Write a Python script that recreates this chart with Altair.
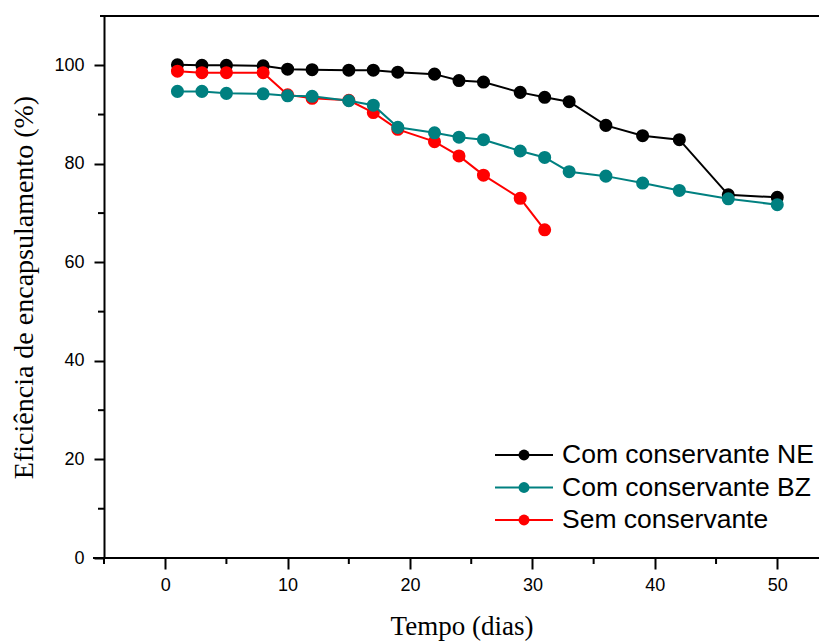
import altair as alt
import pandas as pd

# ---- data ----
series_names = ["Com conservante NE", "Com conservante BZ", "Sem conservante"]
series_colors = ["#000000", "#008080", "#FF0000"]

days_ne = [1, 3, 5, 8, 10, 12, 15, 17, 19, 22, 24, 26, 29, 31, 33, 36, 39, 42, 46, 50]
eff_ne = [100.1, 100.0, 100.0, 99.9, 99.2, 99.1, 99.0, 99.0, 98.6, 98.2, 96.9, 96.6,
          94.5, 93.5, 92.6, 87.8, 85.7, 84.9, 73.7, 73.2]

days_bz = [1, 3, 5, 8, 10, 12, 15, 17, 19, 22, 24, 26, 29, 31, 33, 36, 39, 42, 46, 50]
eff_bz = [94.7, 94.7, 94.3, 94.2, 93.8, 93.7, 92.8, 91.9, 87.4, 86.3, 85.4, 84.9,
          82.6, 81.3, 78.4, 77.5, 76.1, 74.6, 72.9, 71.7]

days_sem = [1, 3, 5, 8, 10, 12, 15, 17, 19, 22, 24, 26, 29, 31]
eff_sem = [98.8, 98.5, 98.5, 98.5, 94.0, 93.3, 92.9, 90.4, 87.0, 84.5, 81.6, 77.7, 73.0, 66.6]

x_major = [0, 10, 20, 30, 40, 50]
x_minor = [-5, 5, 15, 25, 35, 45]
y_major = [0, 20, 40, 60, 80, 100]
y_minor = [10, 30, 50, 70, 90]

x_title = "Tempo (dias)"
y_title = "Eficiência de encapsulamento (%)"

# ---- tables ----
df = pd.concat([
    pd.DataFrame({"dia": days_ne, "ef": eff_ne, "serie": series_names[0]}),
    pd.DataFrame({"dia": days_bz, "ef": eff_bz, "serie": series_names[1]}),
    pd.DataFrame({"dia": days_sem, "ef": eff_sem, "serie": series_names[2]}),
], ignore_index=True)

W, H = 715, 542
XDOM = [-5, 53.41]
YDOM = [0, 110]
SANS = "Liberation Sans"
SERIF = "Liberation Serif"

color = alt.Color("serie:N", scale=alt.Scale(domain=series_names, range=series_colors), legend=None)
xs = alt.Scale(domain=XDOM, nice=False, zero=False)
ys = alt.Scale(domain=YDOM, nice=False)

x_axis = alt.Axis(values=x_major, title=x_title, domain=False, tickSize=11, tickWidth=2,
                  tickColor="black", labelFont=SANS, labelFontSize=18, labelColor="black",
                  labelPadding=7, titleFont=SERIF, titleFontSize=27, titleFontWeight="normal",
                  titleColor="black", titlePadding=19, grid=False, labelFlush=False)
y_axis = alt.Axis(values=y_major, title=y_title, domainWidth=2, domainColor="black",
                  tickSize=10, tickWidth=2, tickColor="black", labelFont=SANS,
                  labelFontSize=18, labelColor="black", labelPadding=10,
                  titleFont=SERIF, titleFontSize=28, titleFontWeight="normal",
                  titleColor="black", titlePadding=15, grid=False)


def X(field):
    return alt.X(field, scale=xs, axis=x_axis)


def Y(field):
    return alt.Y(field, scale=ys, axis=y_axis)


base = alt.Chart(df)

layers = []
for s in [series_names[0], series_names[2], series_names[1]]:
    b = base.transform_filter(alt.datum.serie == s)
    layers.append(b.mark_line(strokeWidth=2).encode(x=X("dia:Q"), y=Y("ef:Q"), color=color))
    layers.append(b.mark_point(filled=True, size=170, opacity=1, shape="circle").encode(
        x=X("dia:Q"), y=Y("ef:Q"), color=color))

# minor ticks and frame lines
xminor_df = pd.DataFrame({"dia": x_minor})
yminor_df = pd.DataFrame({"ef": y_minor})
xmin_rule = alt.Chart(xminor_df).mark_rule(color="black", strokeWidth=2).encode(
    x=X("dia:Q"), y=alt.value(H), y2=alt.value(H + 6))
ymin_rule = alt.Chart(yminor_df).mark_rule(color="black", strokeWidth=2).encode(
    y=Y("ef:Q"), x=alt.value(0), x2=alt.value(-6))
bottom_line = alt.Chart(xminor_df).mark_rule(color="black", strokeWidth=2).encode(
    x=alt.value(-11), x2=alt.value(W), y=alt.value(H))
top_line = alt.Chart(xminor_df).mark_rule(color="black", strokeWidth=2).encode(
    x=alt.value(-4), x2=alt.value(W), y=alt.value(0))

main = alt.layer(*layers, xmin_rule, ymin_rule, bottom_line, top_line)

# manual legend
leg_df = pd.DataFrame({"serie": series_names, "row": [0, 1, 2]})
leg_y = alt.Y("row:Q", scale=alt.Scale(domain=[0, 2], range=[439, 504]), axis=None)
leg_base = alt.Chart(leg_df)
leg_line = leg_base.mark_rule(strokeWidth=2).encode(
    y=leg_y, x=alt.value(391), x2=alt.value(449), color=color)
leg_pt = leg_base.mark_point(filled=True, size=120, opacity=1, shape="circle").encode(
    y=leg_y, x=alt.value(420), color=color)
leg_txt = leg_base.mark_text(align="left", baseline="middle", font=SANS, fontSize=26.5,
                             color="black").encode(y=leg_y, x=alt.value(458), text="serie:N")
legend = alt.layer(leg_line, leg_pt, leg_txt)

chart = alt.layer(main, legend).resolve_scale(y="independent").properties(
    width=W, height=H,
    autosize=alt.AutoSizeParams(type="none"),
    padding={"left": 96, "top": 8, "right": 0, "bottom": 84},
).configure_view(stroke=None).configure(background="white")

chart.save("out.html", embed_options={"renderer": "svg", "actions": False})
